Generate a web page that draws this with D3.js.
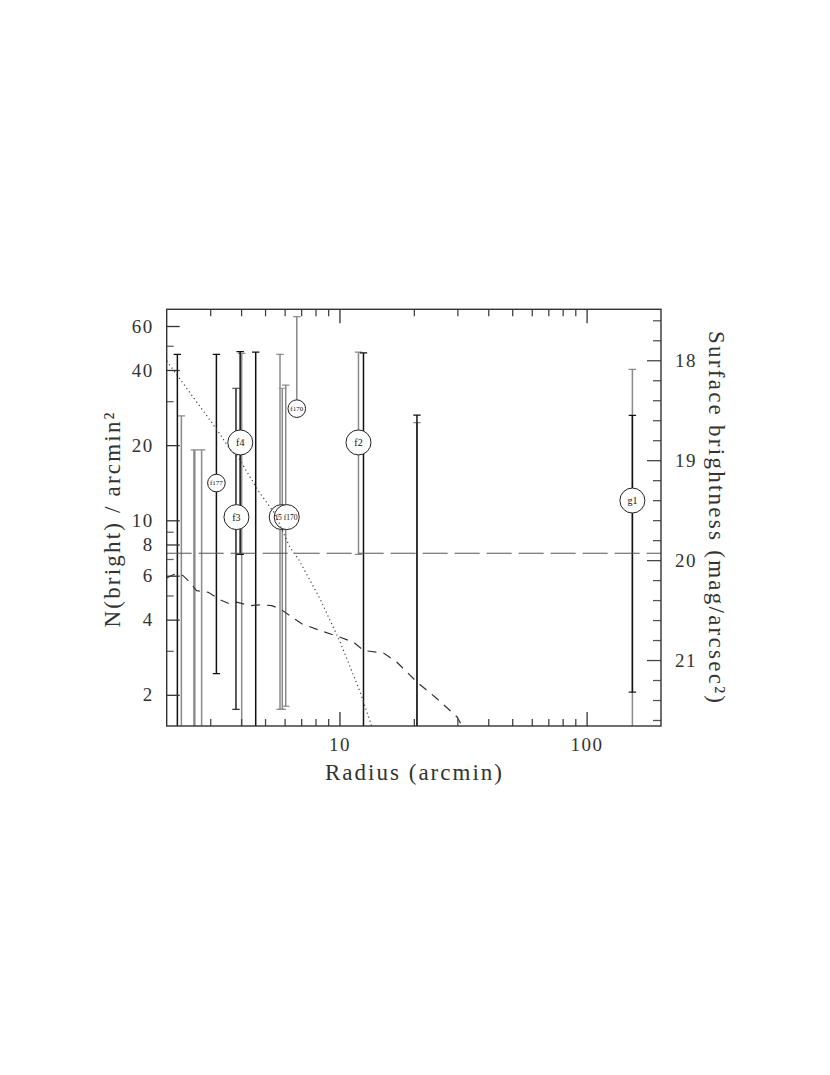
<!DOCTYPE html>
<html><head><meta charset="utf-8">
<script src="https://cdn.jsdelivr.net/npm/d3@7"></script>
<style>body{margin:0;background:#fff} svg{display:block}</style>
</head><body>
<svg id="chart" width="830" height="1075"></svg>
<script>
// ---------- data ----------
const xTicksMajor = [10, 100];
const xTicksMinor = [3, 4, 5, 6, 7, 8, 9, 20, 30, 40, 50, 60, 70, 80, 90];
const yTicksMajor = [2, 4, 6, 8, 10, 20, 40, 60];
const yTicksMinor = [3, 5, 7, 9, 30, 50];
const magTicksMajor = [18, 19, 20, 21];
const magTicksMinor = [17.6, 17.8, 18.2, 18.4, 18.6, 18.8, 19.2, 19.4, 19.6, 19.8,
                       20.2, 20.4, 20.6, 20.8, 21.2, 21.4, 21.6];

// error bars: radius (arcmin), lower / upper N (null = below the plot), tone
const errorBars = [
  {x: 2.209, lo: null, hi: 46.2,  tone: "k"},
  {x: 2.293, lo: null, hi: 26.2,  tone: "g"},
  {x: 2.588, lo: null, hi: 19.15, tone: "g2"},
  {x: 2.769, lo: null, hi: 19.15, tone: "g"},
  {x: 3.178, lo: 2.43, hi: 46.2,  tone: "k"},
  {x: 3.813, lo: 1.75, hi: 33.8,  tone: "d"},
  {x: 4.022, lo: null, hi: 46.6,  tone: "g"},
  {x: 3.965, lo: 7.3,  hi: 47.4,  tone: "k"},
  {x: 4.583, lo: null, hi: 47.2,  tone: "k"},
  {x: 5.748, lo: 1.75, hi: 46.2,  tone: "g"},
  {x: 5.872, lo: 1.75, hi: 33.8,  tone: "g"},
  {x: 6.063, lo: 1.80, hi: 34.8,  tone: "g"},
  {x: 6.72,  lo: 26.5, hi: 65.4,  tone: "g"},
  {x: 11.94, lo: 7.3,  hi: 47.2,  tone: "g"},
  {x: 12.51, lo: null, hi: 46.8,  tone: "k"},
  {x: 20.59, lo: null, hi: 24.6,  tone: "g"},
  {x: 20.59, lo: null, hi: 26.4,  tone: "k"},
  {x: 153.2, lo: null, hi: 40.2,  tone: "g"},
  {x: 153.2, lo: 2.05, hi: 26.3,  tone: "k"}
];

// labelled fields (dx = label nudge inside the circle, in px)
const points = [
  {label: "f177", x: 3.178, y: 14.1, size: "s", dx: 0},
  {label: "f4",   x: 3.97,  y: 20.5, size: "b", dx: 0},
  {label: "f3",   x: 3.831, y: 10.3, size: "b", dx: 0},
  {label: "f170", x: 6.72,  y: 28.0, size: "s", dx: 0},
  {label: "f5",   x: 5.84,  y: 10.3, size: "m", dx: -3},
  {label: "f170", x: 6.12,  y: 10.3, size: "m", dx: 4},
  {label: "f2",   x: 11.94, y: 20.5, size: "b", dx: 0},
  {label: "g1",   x: 153.2, y: 12.0, size: "b", dx: 0}
];

// dashed profile
const dashedX = [2.0, 2.158, 2.331, 2.443, 2.642, 2.944, 3.337, 3.604, 3.838, 4.345, 4.846,
                 5.321, 5.748, 6.311, 7.038, 8.352, 10.07, 11.40, 12.51, 15.08, 17.09,
                 20.59, 24.82, 29.92, 31.35];
const dashedY = [5.87, 6.10, 6.00, 5.73, 5.23, 5.15, 4.77, 4.62, 4.70, 4.55, 4.59,
                 4.55, 4.42, 4.15, 3.85, 3.62, 3.40, 3.25, 3.01, 2.94, 2.70,
                 2.25, 1.93, 1.63, 1.50];
// dotted profile
const dottedX = [2.0, 3.18, 3.6, 3.89, 4.7, 5.49, 6.3, 6.82, 8.35, 10.07, 12.13, 13.5];
const dottedY = [43.5, 23.2, 19.3, 17.9, 13.1, 10.6, 7.8, 7.0, 4.84, 3.25, 2.05, 1.5];
// long-dashed level
const levelN = 7.38;

// ---------- layout ----------
const L = 166.7, T = 309.3, R = 661, B = 726;
const svg = d3.select("#chart");
const x = d3.scaleLog().domain([2, 200]).range([L, R]);
const y = d3.scaleLog().domain([1.5, 70]).range([B, T]);
const yMag = d3.scaleLinear().domain([17.49, 21.66]).range([T, B]);

const SERIF = "'Liberation Serif','Times New Roman',serif";
const tone = {k: "#111", g: "#8a8a8a", g2: "#8a8a8a", d: "#333"};
const width = {k: 1.5, g: 1.5, g2: 2.4, d: 1.6};

svg.append("defs").append("clipPath").attr("id", "clip")
  .append("rect").attr("x", L).attr("y", T).attr("width", R - L).attr("height", B - T);

const plot = svg.append("g").attr("clip-path", "url(#clip)");

// error bars: grey first, then dark
const ordered = errorBars.filter(d => d.tone === "g" || d.tone === "g2")
  .concat(errorBars.filter(d => d.tone === "k" || d.tone === "d"));
ordered.forEach(d => {
  const cx = x(d.x);
  const yTop = y(d.hi);
  const yBot = d.lo === null ? B + 5 : y(d.lo);
  const g = plot.append("g").attr("stroke", tone[d.tone]).attr("fill", "none");
  g.append("line").attr("x1", cx).attr("x2", cx).attr("y1", yTop).attr("y2", yBot)
    .attr("stroke-width", width[d.tone]);
  g.append("line").attr("x1", cx - 3.7).attr("x2", cx + 3.7).attr("y1", yTop).attr("y2", yTop)
    .attr("stroke-width", 1.2);
  if (d.lo !== null) {
    g.append("line").attr("x1", cx - 3.7).attr("x2", cx + 3.7).attr("y1", yBot).attr("y2", yBot)
      .attr("stroke-width", 1.2);
  }
});

// circles with labels
const radius = {b: 12.5, m: 12.5, s: 8.8};
const fsize = {b: 10, m: 7.5, s: 7};
points.forEach(p => {
  const g = plot.append("g").attr("transform", `translate(${x(p.x)},${y(p.y)})`);
  g.append("circle").attr("r", radius[p.size]).attr("fill", "#fff").attr("stroke", "#222").attr("stroke-width", 1);
});
points.forEach(p => {
  plot.append("text").text(p.label)
    .attr("x", x(p.x) + p.dx).attr("y", y(p.y))
    .attr("text-anchor", "middle").attr("dy", "0.35em")
    .attr("font-family", SERIF).attr("font-size", fsize[p.size])
    .attr("fill", "#111");
});

// curves
const lineGen = d3.line().x(d => x(d[0])).y(d => y(d[1]));
plot.append("path").datum(d3.zip(dashedX, dashedY)).attr("d", lineGen)
  .attr("fill", "none").attr("stroke", "#333").attr("stroke-width", 1.2)
  .attr("stroke-dasharray", "9,7");
plot.append("path").datum(d3.zip(dottedX, dottedY)).attr("d", lineGen)
  .attr("fill", "none").attr("stroke", "#444").attr("stroke-width", 1.2)
  .attr("stroke-dasharray", "1.2,3");
plot.append("line").attr("x1", L).attr("x2", R).attr("y1", y(levelN)).attr("y2", y(levelN))
  .attr("stroke", "#555").attr("stroke-width", 1).attr("stroke-dasharray", "25,7");

// ---------- axes ----------
function styleAxis(g, col) {
  g.select(".domain").remove();
  g.selectAll(".tick line").attr("stroke", col).attr("stroke-width", 1.3);
  g.selectAll(".tick text").attr("font-family", SERIF).attr("font-size", 19)
    .attr("fill", "#333").attr("letter-spacing", "1.5px");
}
// left
styleAxis(svg.append("g").attr("transform", `translate(${L},0)`)
  .call(d3.axisLeft(y).tickValues(yTicksMajor).tickSize(-13).tickPadding(13).tickFormat(d3.format("d"))), "#333");
styleAxis(svg.append("g").attr("transform", `translate(${L},0)`)
  .call(d3.axisLeft(y).tickValues(yTicksMinor).tickSize(-7).tickFormat("")), "#666");
// bottom
styleAxis(svg.append("g").attr("transform", `translate(0,${B})`)
  .call(d3.axisBottom(x).tickValues(xTicksMajor).tickSize(-14).tickPadding(12).tickFormat(d3.format("d"))), "#333");
styleAxis(svg.append("g").attr("transform", `translate(0,${B})`)
  .call(d3.axisBottom(x).tickValues(xTicksMinor).tickSize(-7).tickFormat("")), "#444");
// top
styleAxis(svg.append("g").attr("transform", `translate(0,${T})`)
  .call(d3.axisTop(x).tickValues(xTicksMajor).tickSize(-14).tickFormat("")), "#333");
styleAxis(svg.append("g").attr("transform", `translate(0,${T})`)
  .call(d3.axisTop(x).tickValues(xTicksMinor).tickSize(-7).tickFormat("")), "#444");
// right
styleAxis(svg.append("g").attr("transform", `translate(${R},0)`)
  .call(d3.axisRight(yMag).tickValues(magTicksMajor).tickSize(-14).tickPadding(14).tickFormat(d3.format("d"))), "#444");
styleAxis(svg.append("g").attr("transform", `translate(${R},0)`)
  .call(d3.axisRight(yMag).tickValues(magTicksMinor).tickSize(-8).tickFormat("")), "#555");

// frame
svg.append("rect").attr("x", L).attr("y", T).attr("width", R - L).attr("height", B - T)
  .attr("fill", "none").attr("stroke", "#333").attr("stroke-width", 1.4);

// titles
svg.append("text").text("Radius (arcmin)")
  .attr("x", 413.5).attr("y", 780).attr("text-anchor", "middle")
  .attr("font-family", SERIF).attr("font-size", 23).attr("fill", "#333")
  .attr("textLength", 177).attr("lengthAdjust", "spacing");
svg.append("text").text("N(bright) / arcmin²")
  .attr("transform", "translate(120,520) rotate(-90)").attr("text-anchor", "middle")
  .attr("font-family", SERIF).attr("font-size", 23).attr("fill", "#333")
  .attr("textLength", 215).attr("lengthAdjust", "spacing");
svg.append("text").text("Surface brightness (mag/arcsec²)")
  .attr("transform", "translate(709,517) rotate(90)").attr("text-anchor", "middle")
  .attr("font-family", SERIF).attr("font-size", 23).attr("fill", "#333")
  .attr("textLength", 372).attr("lengthAdjust", "spacing");
</script>
</body></html>
